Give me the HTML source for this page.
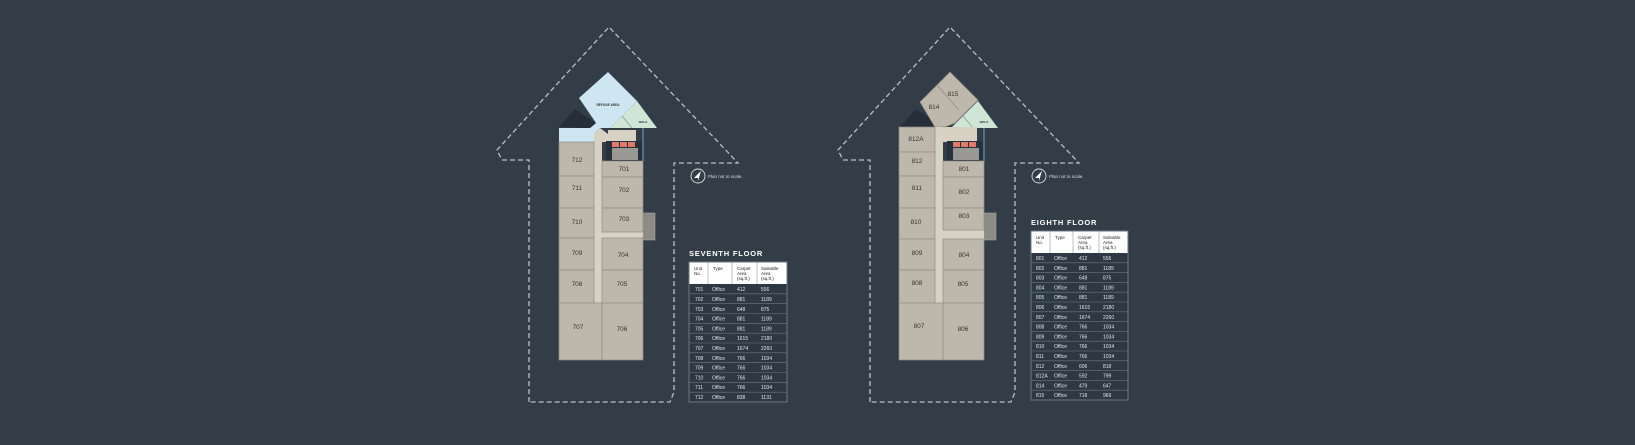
<!DOCTYPE html>
<html><head><meta charset="utf-8"><style>
html,body{margin:0;padding:0;background:#323d48;}
svg{display:block}
text{font-family:"Liberation Sans",sans-serif;}
</style></head><body>
<svg width="1635" height="445" viewBox="0 0 1635 445" xmlns="http://www.w3.org/2000/svg">
<rect width="1635" height="445" fill="#323d48"/>
<defs>
<g id="plan">
 <!-- dashed outline -->
 <polyline points="529,402 529,160 502,160 497,150 609,27 738,163 674,163 674,392 670,402 529,402" fill="none" stroke="#b9bec3" stroke-width="1.3" stroke-dasharray="5,3"/>
 <!-- top blue / green -->
 <polygon points="608,72 637,101 610,128 600,128 594,134 594,142 559,142 559,128 590,128 596,123 579,98" fill="#cde6f2"/>
 <polygon points="559,127 575,109 596,123 590,128" fill="#262f39"/>
 <polygon points="637,101 657,128 610,128" fill="#cfe6d6"/>
 <line x1="622" y1="116" x2="632" y2="128" stroke="#7a8a80" stroke-width="0.6"/>
 <polygon points="594,134 600,128 608,134 608,142 594,142" fill="#d8d2c4"/>
 <rect x="608" y="130" width="28" height="12" fill="#d8d2c4"/>
 <text x="608" y="106" font-size="3.2" text-anchor="middle" fill="#333" font-weight="bold">REFUGE AREA</text>
 <text x="643" y="123" font-size="3" text-anchor="middle" fill="#333" font-weight="bold">WALK</text>
 <!-- lift core -->
 <rect x="606" y="141" width="36" height="22" fill="#27313c"/>
 <rect x="612" y="142" width="7" height="5" fill="#e07a6a"/>
 <rect x="620" y="142" width="7" height="5" fill="#e07a6a"/>
 <rect x="628" y="142" width="7" height="5" fill="#e07a6a"/>
 <rect x="612" y="148" width="26" height="12" fill="#9a9895"/>
 <line x1="643" y1="128" x2="643" y2="162" stroke="#6ea2c6" stroke-width="1"/>
 <!-- stair box right -->
 <rect x="643" y="213" width="12" height="27" fill="#8c8b88" stroke="#a5a4a0" stroke-width="0.6"/>
 <!-- corridor -->
 <rect x="594" y="142" width="8" height="168" fill="#d8d2c4"/>
 <rect x="602" y="232" width="41" height="6" fill="#d8d2c4"/>
 <!-- plan not to scale -->
 <circle cx="698" cy="176" r="7" fill="none" stroke="#d9dde0" stroke-width="0.9"/>
 <polygon points="701,171 694,178 698,178 698,181" fill="#ffffff"/>
 <text x="708" y="178" font-size="4.5" fill="#d9dde0">Plan not to scale.</text>
</g>
<g id="units" fill="#bdb8ab" stroke="#8f8b80" stroke-width="0.7"></g>
</defs>

<!-- ===== SEVENTH FLOOR ===== -->
<use href="#plan"/>
<g fill="#bdb8ab" stroke="#8f8b80" stroke-width="0.7">
 <rect x="559" y="142" width="35" height="34"/>
 <rect x="559" y="176" width="35" height="32"/>
 <rect x="559" y="208" width="35" height="30"/>
 <rect x="559" y="238" width="35" height="32"/>
 <rect x="559" y="270" width="35" height="33"/>
 <rect x="559" y="303" width="43" height="57"/>
 <rect x="602" y="161" width="41" height="16"/>
 <rect x="602" y="177" width="41" height="31"/>
 <rect x="602" y="208" width="41" height="24"/>
 <rect x="602" y="238" width="41" height="32"/>
 <rect x="602" y="270" width="41" height="33"/>
 <rect x="602" y="303" width="41" height="57"/>
</g>
<g font-size="6.5" fill="#333" text-anchor="middle">
 <text x="577" y="162">712</text><text x="577" y="190">711</text><text x="577" y="224">710</text>
 <text x="577" y="255">709</text><text x="577" y="286">708</text><text x="578" y="329">707</text>
 <text x="624" y="171">701</text><text x="624" y="192">702</text><text x="624" y="221">703</text>
 <text x="623" y="257">704</text><text x="622" y="286">705</text><text x="622" y="331">706</text>
</g>
<text x="689" y="256" font-size="7.5" font-weight="bold" fill="#fff" letter-spacing="0.8">SEVENTH FLOOR</text>
<g>
 <rect x="689" y="262" width="98" height="140" fill="#2d3843" stroke="#6c7782" stroke-width="1"/>
 <rect x="689.5" y="262.5" width="97" height="21.5" fill="#fff"/>
 <g stroke="#8a939c" stroke-width="0.6"><line x1="708" y1="262" x2="708" y2="284"/><line x1="732" y1="262" x2="732" y2="284"/><line x1="757" y1="262" x2="757" y2="284"/></g>
 <g font-size="4.5" fill="#222"><text x="694" y="270">Unit</text><text x="694" y="275">No.</text><text x="713" y="270">Type</text>
 <text x="737" y="270">Carpet</text><text x="737" y="275">Area</text><text x="737" y="280">(sq.ft.)</text>
 <text x="761" y="270">Saleable</text><text x="761" y="275">Area</text><text x="761" y="280">(sq.ft.)</text></g>
 <g stroke="#6c7782" stroke-width="0.6">
 <line x1="689" y1="293.8" x2="787" y2="293.8"/><line x1="689" y1="303.7" x2="787" y2="303.7"/><line x1="689" y1="313.5" x2="787" y2="313.5"/><line x1="689" y1="323.3" x2="787" y2="323.3"/><line x1="689" y1="333.2" x2="787" y2="333.2"/><line x1="689" y1="343" x2="787" y2="343"/><line x1="689" y1="352.8" x2="787" y2="352.8"/><line x1="689" y1="362.7" x2="787" y2="362.7"/><line x1="689" y1="372.5" x2="787" y2="372.5"/><line x1="689" y1="382.3" x2="787" y2="382.3"/><line x1="689" y1="392.2" x2="787" y2="392.2"/></g>
 <g font-size="5" fill="#e4e6e8">
 <text x="695" y="291">701</text><text x="712" y="291">Office</text><text x="737" y="291">412</text><text x="761" y="291">556</text>
 <text x="695" y="301">702</text><text x="712" y="301">Office</text><text x="737" y="301">881</text><text x="761" y="301">1189</text>
 <text x="695" y="311">703</text><text x="712" y="311">Office</text><text x="737" y="311">648</text><text x="761" y="311">875</text>
 <text x="695" y="320.5">704</text><text x="712" y="320.5">Office</text><text x="737" y="320.5">881</text><text x="761" y="320.5">1189</text>
 <text x="695" y="330.5">705</text><text x="712" y="330.5">Office</text><text x="737" y="330.5">881</text><text x="761" y="330.5">1189</text>
 <text x="695" y="340">706</text><text x="712" y="340">Office</text><text x="737" y="340">1615</text><text x="761" y="340">2180</text>
 <text x="695" y="350">707</text><text x="712" y="350">Office</text><text x="737" y="350">1674</text><text x="761" y="350">2260</text>
 <text x="695" y="360">708</text><text x="712" y="360">Office</text><text x="737" y="360">766</text><text x="761" y="360">1034</text>
 <text x="695" y="369.5">709</text><text x="712" y="369.5">Office</text><text x="737" y="369.5">766</text><text x="761" y="369.5">1034</text>
 <text x="695" y="379.5">710</text><text x="712" y="379.5">Office</text><text x="737" y="379.5">766</text><text x="761" y="379.5">1034</text>
 <text x="695" y="389">711</text><text x="712" y="389">Office</text><text x="737" y="389">766</text><text x="761" y="389">1034</text>
 <text x="695" y="399">712</text><text x="712" y="399">Office</text><text x="737" y="399">838</text><text x="761" y="399">1131</text>
 </g>
</g>

<!-- ===== EIGHTH FLOOR ===== -->
<g transform="translate(341,0)">
 <polyline points="529,402 529,160 502,160 497,150 609,27 738,163 674,163 674,392 670,402 529,402" fill="none" stroke="#b9bec3" stroke-width="1.3" stroke-dasharray="5,3"/>
 <polygon points="559,127 575,109 596,123 590,128" fill="#262f39"/>
 <polygon points="637,101 657,128 610,128" fill="#cfe6d6"/>
 <line x1="622" y1="116" x2="632" y2="128" stroke="#7a8a80" stroke-width="0.6"/>
 <rect x="594" y="127" width="42" height="15" fill="#d8d2c4"/>
 <polygon points="609,72 637,100 614,123 604,127 594,127 579,102" fill="#bdb8ab" stroke="#8f8b80" stroke-width="0.7"/>
 <line x1="596" y1="85" x2="618" y2="110" stroke="#8f8b80" stroke-width="0.7"/>
 <text x="643" y="123" font-size="3" text-anchor="middle" fill="#333" font-weight="bold">WALK</text>
 <rect x="606" y="141" width="36" height="22" fill="#27313c"/>
 <rect x="612" y="142" width="7" height="5" fill="#e07a6a"/>
 <rect x="620" y="142" width="7" height="5" fill="#e07a6a"/>
 <rect x="628" y="142" width="7" height="5" fill="#e07a6a"/>
 <rect x="612" y="148" width="26" height="12" fill="#9a9895"/>
 <line x1="643" y1="128" x2="643" y2="162" stroke="#6ea2c6" stroke-width="1"/>
 <rect x="643" y="213" width="12" height="27" fill="#8c8b88" stroke="#a5a4a0" stroke-width="0.6"/>
 <rect x="594" y="127" width="8" height="183" fill="#d8d2c4"/>
 <rect x="602" y="230" width="41" height="9" fill="#d8d2c4"/>
 <circle cx="698" cy="176" r="7" fill="none" stroke="#d9dde0" stroke-width="0.9"/>
 <polygon points="701,171 694,178 698,178 698,181" fill="#ffffff"/>
 <text x="708" y="178" font-size="4.5" fill="#d9dde0">Plan not to scale.</text>
 <g fill="#bdb8ab" stroke="#8f8b80" stroke-width="0.7">
  <rect x="558" y="127" width="36" height="25"/>
  <rect x="558" y="152" width="36" height="24"/>
  <rect x="558" y="176" width="36" height="32"/>
  <rect x="558" y="208" width="36" height="31"/>
  <rect x="558" y="239" width="36" height="31"/>
  <rect x="558" y="270" width="36" height="33"/>
  <rect x="558" y="303" width="44" height="57"/>
  <rect x="602" y="161" width="41" height="16"/>
  <rect x="602" y="177" width="41" height="31"/>
  <rect x="602" y="208" width="41" height="22"/>
  <rect x="602" y="239" width="41" height="31"/>
  <rect x="602" y="270" width="41" height="33"/>
  <rect x="602" y="303" width="41" height="57"/>
 </g>
 <g font-size="6.5" fill="#333" text-anchor="middle">
  <text x="575" y="141">812A</text><text x="576" y="163">812</text><text x="576" y="190">811</text>
  <text x="575" y="224">810</text><text x="576" y="255">809</text><text x="576" y="285">808</text><text x="578" y="328">807</text>
  <text x="593" y="109">814</text><text x="612" y="96">815</text>
  <text x="623" y="171">801</text><text x="623" y="194">802</text><text x="623" y="218">803</text>
  <text x="623" y="257">804</text><text x="622" y="286">805</text><text x="622" y="331">806</text>
 </g>
</g>
<text x="1031" y="225" font-size="7.5" font-weight="bold" fill="#fff" letter-spacing="0.8">EIGHTH FLOOR</text>
<g>
 <rect x="1031" y="231" width="97" height="169" fill="#2d3843" stroke="#6c7782" stroke-width="1"/>
 <rect x="1031.5" y="231.5" width="96" height="21.5" fill="#fff"/>
 <g stroke="#8a939c" stroke-width="0.6"><line x1="1050" y1="231" x2="1050" y2="253"/><line x1="1073" y1="231" x2="1073" y2="253"/><line x1="1099" y1="231" x2="1099" y2="253"/></g>
 <g font-size="4.5" fill="#222"><text x="1036" y="239">Unit</text><text x="1036" y="244">No.</text><text x="1055" y="239">Type</text>
 <text x="1078" y="239">Carpet</text><text x="1078" y="244">Area</text><text x="1078" y="249">(sq.ft.)</text>
 <text x="1103" y="239">Saleable</text><text x="1103" y="244">Area</text><text x="1103" y="249">(sq.ft.)</text></g>
 <g stroke="#6c7782" stroke-width="0.6">
 <line x1="1031" y1="262.8" x2="1128" y2="262.8"/><line x1="1031" y1="272.6" x2="1128" y2="272.6"/><line x1="1031" y1="282.4" x2="1128" y2="282.4"/><line x1="1031" y1="292.2" x2="1128" y2="292.2"/><line x1="1031" y1="302" x2="1128" y2="302"/><line x1="1031" y1="311.8" x2="1128" y2="311.8"/><line x1="1031" y1="321.6" x2="1128" y2="321.6"/><line x1="1031" y1="331.4" x2="1128" y2="331.4"/><line x1="1031" y1="341.2" x2="1128" y2="341.2"/><line x1="1031" y1="351" x2="1128" y2="351"/><line x1="1031" y1="360.8" x2="1128" y2="360.8"/><line x1="1031" y1="370.6" x2="1128" y2="370.6"/><line x1="1031" y1="380.4" x2="1128" y2="380.4"/><line x1="1031" y1="390.2" x2="1128" y2="390.2"/></g>
 <g font-size="5" fill="#e4e6e8">
 <text x="1036" y="260">801</text><text x="1054" y="260">Office</text><text x="1079" y="260">412</text><text x="1103" y="260">556</text>
 <text x="1036" y="270">802</text><text x="1054" y="270">Office</text><text x="1079" y="270">881</text><text x="1103" y="270">1189</text>
 <text x="1036" y="279.5">803</text><text x="1054" y="279.5">Office</text><text x="1079" y="279.5">648</text><text x="1103" y="279.5">875</text>
 <text x="1036" y="289.5">804</text><text x="1054" y="289.5">Office</text><text x="1079" y="289.5">881</text><text x="1103" y="289.5">1189</text>
 <text x="1036" y="299">805</text><text x="1054" y="299">Office</text><text x="1079" y="299">881</text><text x="1103" y="299">1189</text>
 <text x="1036" y="309">806</text><text x="1054" y="309">Office</text><text x="1079" y="309">1615</text><text x="1103" y="309">2180</text>
 <text x="1036" y="319">807</text><text x="1054" y="319">Office</text><text x="1079" y="319">1674</text><text x="1103" y="319">2260</text>
 <text x="1036" y="328.5">808</text><text x="1054" y="328.5">Office</text><text x="1079" y="328.5">766</text><text x="1103" y="328.5">1034</text>
 <text x="1036" y="338.5">809</text><text x="1054" y="338.5">Office</text><text x="1079" y="338.5">766</text><text x="1103" y="338.5">1034</text>
 <text x="1036" y="348">810</text><text x="1054" y="348">Office</text><text x="1079" y="348">766</text><text x="1103" y="348">1034</text>
 <text x="1036" y="358">811</text><text x="1054" y="358">Office</text><text x="1079" y="358">766</text><text x="1103" y="358">1034</text>
 <text x="1036" y="368">812</text><text x="1054" y="368">Office</text><text x="1079" y="368">606</text><text x="1103" y="368">818</text>
 <text x="1036" y="377.5">812A</text><text x="1054" y="377.5">Office</text><text x="1079" y="377.5">592</text><text x="1103" y="377.5">799</text>
 <text x="1036" y="387.5">814</text><text x="1054" y="387.5">Office</text><text x="1079" y="387.5">479</text><text x="1103" y="387.5">647</text>
 <text x="1036" y="397">815</text><text x="1054" y="397">Office</text><text x="1079" y="397">718</text><text x="1103" y="397">969</text>
 </g>
</g>
</svg>
</body></html>
